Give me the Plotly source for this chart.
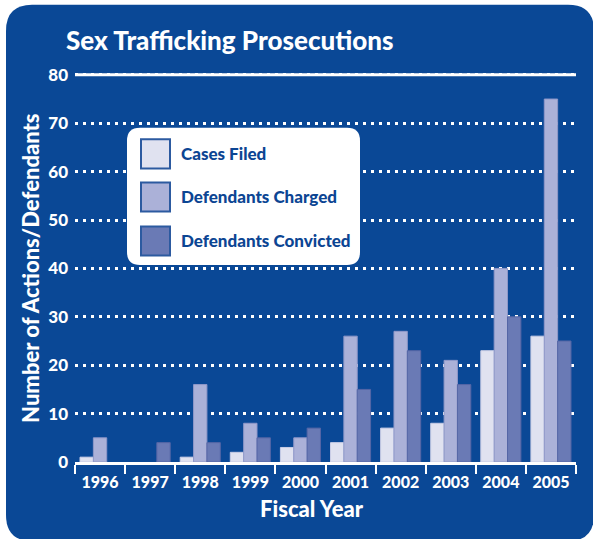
import plotly.graph_objects as go

# data
years = ["1996", "1997", "1998", "1999", "2000", "2001", "2002", "2003", "2004", "2005"]
cases_filed = [1, 0, 1, 2, 3, 4, 7, 8, 23, 26]
defendants_charged = [5, 0, 16, 8, 5, 26, 27, 21, 40, 75]
defendants_convicted = [0, 4, 4, 5, 7, 15, 23, 16, 30, 25]
y_ticks = [0, 10, 20, 30, 40, 50, 60, 70, 80]

series = [
    ("Cases Filed", cases_filed, "#e0e2f0", "#c9cde6"),
    ("Defendants Charged", defendants_charged, "#abb1d8", "#8f98c9"),
    ("Defendants Convicted", defendants_convicted, "#6a7ab5", "#5566a6"),
]

BLUE = "#0a4896"
FONT = "Lato"

# page geometry (body margin is removed below, so page px == figure px)
W, H = 593, 539
unit = 387 / 80  # pixels per y unit in the reference
y_top = 81
x_left, x_right, y_zero = 75, 576, 462
ML, MR, MB = x_left, W - x_right, H - y_zero
PH = y_top * unit
MT = H - MB - PH
PW = W - ML - MR


def px(x):
    return (x - ML) / PW


def py(y):
    return (H - MB - y) / PH


def rounded_path(x0, y0, x1, y1, r):
    """Rounded rectangle path in paper coords, corners given in page pixels."""
    rx, ry = r / PW, r / PH
    a, b, c, d = px(x0), px(x1), py(y0), py(y1)  # c top, d bottom
    return (
        f"M {a + rx},{c} L {b - rx},{c} Q {b},{c} {b},{c - ry} "
        f"L {b},{d + ry} Q {b},{d} {b - rx},{d} "
        f"L {a + rx},{d} Q {a},{d} {a},{d + ry} "
        f"L {a},{c - ry} Q {a},{c} {a + rx},{c} Z"
    )


fig = go.Figure()
for name, vals, col, edge in series:
    fig.add_trace(go.Bar(
        x=years, y=vals, name=name,
        marker=dict(color=col, line=dict(color=edge, width=[1 if v else 0 for v in vals])),
        showlegend=False,
    ))

shapes = [
    # blue panel
    dict(type="path", xref="paper", yref="paper", layer="below",
         path=rounded_path(6, 5, 594, 541, 26), fillcolor=BLUE, line=dict(width=0)),
    # solid top line at 80
    dict(type="line", xref="paper", yref="y", x0=0, x1=1, y0=80, y1=80,
         line=dict(color="white", width=3), layer="above"),
    # legend box
    dict(type="path", xref="paper", yref="paper", layer="above",
         path=rounded_path(127, 128, 360, 265, 13), fillcolor="white", line=dict(width=0)),
]
annotations = []
row_y = [154, 197, 241]
for (name, vals, col, edge), ry in zip(series, row_y):
    shapes.append(dict(type="rect", xref="paper", yref="paper", layer="above",
                       x0=px(141), x1=px(170), y0=py(ry - 14.5), y1=py(ry + 14.5),
                       fillcolor=col, line=dict(color="#2c5aa0", width=2)))
    annotations.append(dict(xref="paper", yref="paper", x=px(179), y=py(ry),
                            xanchor="left", yanchor="middle", showarrow=False,
                            text=name,
                            font=dict(family=FONT, size=17, color="#0c4593", weight=900)))

annotations += [
    dict(xref="paper", yref="paper", x=px(64), y=py(40), xanchor="left", yanchor="middle",
         showarrow=False, text="Sex Trafficking Prosecutions",
         font=dict(family=FONT, size=26, color="white", weight=900)),
    dict(xref="paper", yref="paper", x=px(312), y=py(508), xanchor="center", yanchor="middle",
         showarrow=False, text="Fiscal Year",
         font=dict(family=FONT, size=22, color="white", weight=900)),
    dict(xref="paper", yref="paper", x=px(31), y=py(268), xanchor="center", yanchor="middle",
         showarrow=False, textangle=-90, text="Number of Actions/Defendants",
         font=dict(family=FONT, size=22, color="white", weight=900)),
]

fig.update_layout(
    width=W, height=H,
    margin=dict(l=ML, r=MR, t=MT, b=MB),
    paper_bgcolor="white", plot_bgcolor="rgba(0,0,0,0)",
    barmode="group", bargap=0.2, bargroupgap=0,
    shapes=shapes, annotations=annotations,
    font=dict(family=FONT, color="white"),
)
fig.update_xaxes(
    type="category", tickson="boundaries", ticks="outside", ticklen=9,
    tickwidth=2, tickcolor="white", showline=True, linecolor="white", linewidth=3,
    showgrid=False, ticklabelstandoff=4,
    tickfont=dict(family=FONT, size=16, color="white", weight=900),
)
fig.update_yaxes(
    range=[0, y_top], tickvals=y_ticks, showgrid=True, gridcolor="white", gridwidth=2.5,
    griddash="3px,5px", zeroline=False, showline=False, ticks="", ticklabelstandoff=6,
    tickfont=dict(family=FONT, size=17, color="white", weight=900),
)

fig.write_html("out.html", config={"displayModeBar": False},
               post_script="document.body.style.margin = '0';")
